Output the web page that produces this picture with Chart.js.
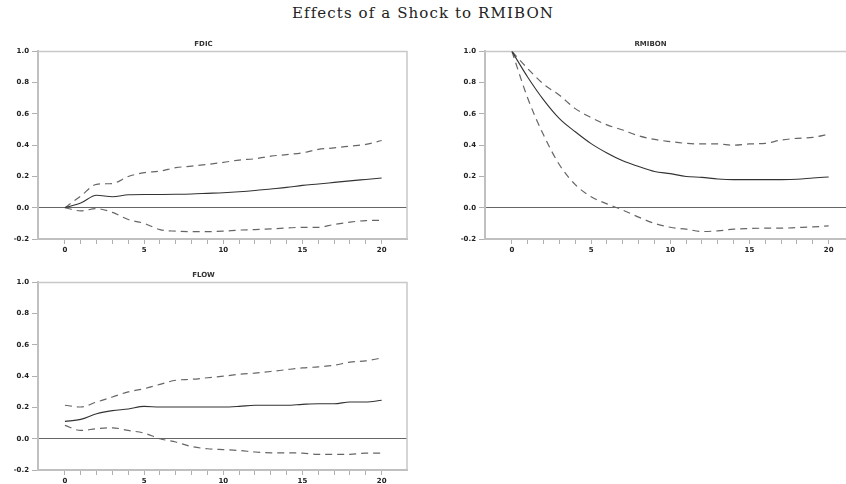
<!DOCTYPE html>
<html>
<head>
<meta charset="utf-8">
<script src="https://cdn.jsdelivr.net/npm/chart.js@4"></script>
<style>
  body { margin: 0; background: #fff; width: 846px; height: 484px; overflow: hidden; position: relative; }
  #title { position: absolute; top: 4px; left: 0; width: 846px; text-align: center;
           font: 15px "DejaVu Serif"; letter-spacing: 1.1px; color: #222; }
  canvas { position: absolute; }
</style>
</head>
<body>
<div id="title">Effects of a Shock to RMIBON</div>
<canvas id="c1" width="420" height="218" style="left:0;top:38px"></canvas>
<canvas id="c2" width="420" height="218" style="left:447px;top:38px"></canvas>
<canvas id="c3" width="420" height="218" style="left:0;top:269px"></canvas>
<script>
// horizon steps
const steps = [0, 1, 2, 3, 4, 5, 6, 7, 8, 9, 10, 11, 12, 13, 14, 15, 16, 17, 18, 19, 20];

// response of FDIC
const fdicResp = [0.0, 0.03, 0.08, 0.07, 0.083, 0.085, 0.085, 0.086, 0.088, 0.092, 0.096, 0.102, 0.11, 0.12, 0.13, 0.143, 0.152, 0.162, 0.172, 0.181, 0.19];
const fdicHigh = [0.0, 0.075, 0.15, 0.155, 0.2, 0.224, 0.234, 0.256, 0.266, 0.277, 0.29, 0.305, 0.313, 0.33, 0.34, 0.351, 0.373, 0.383, 0.394, 0.405, 0.43];
const fdicLow  = [0.0, -0.02, -0.006, -0.03, -0.075, -0.1, -0.14, -0.15, -0.153, -0.153, -0.15, -0.143, -0.14, -0.135, -0.13, -0.125, -0.125, -0.107, -0.092, -0.082, -0.08];

// response of RMIBON
const rmibonResp = [1.0, 0.835, 0.69, 0.57, 0.486, 0.41, 0.35, 0.30, 0.264, 0.232, 0.218, 0.2, 0.194, 0.184, 0.18, 0.18, 0.18, 0.18, 0.182, 0.19, 0.197];
const rmibonHigh = [1.0, 0.89, 0.79, 0.72, 0.634, 0.577, 0.53, 0.497, 0.46, 0.437, 0.423, 0.412, 0.408, 0.408, 0.40, 0.408, 0.412, 0.433, 0.444, 0.45, 0.47];
const rmibonLow  = [1.0, 0.70, 0.465, 0.275, 0.148, 0.07, 0.025, -0.015, -0.06, -0.1, -0.125, -0.137, -0.152, -0.148, -0.137, -0.133, -0.131, -0.131, -0.127, -0.123, -0.116];

// response of FLOW
const flowResp = [0.111, 0.124, 0.16, 0.18, 0.19, 0.207, 0.203, 0.203, 0.203, 0.203, 0.203, 0.207, 0.214, 0.214, 0.214, 0.22, 0.224, 0.224, 0.235, 0.235, 0.246];
const flowHigh = [0.214, 0.203, 0.235, 0.267, 0.30, 0.32, 0.348, 0.374, 0.38, 0.39, 0.40, 0.412, 0.42, 0.43, 0.442, 0.453, 0.46, 0.47, 0.49, 0.498, 0.517];
const flowLow  = [0.085, 0.053, 0.064, 0.07, 0.053, 0.036, 0.0, -0.021, -0.05, -0.064, -0.07, -0.075, -0.085, -0.09, -0.09, -0.092, -0.1, -0.1, -0.1, -0.092, -0.092];

const yTicks = [-0.2, 0.0, 0.2, 0.4, 0.6, 0.8, 1.0];

// top and right edges of the box
const framePlugin = {
  id: 'frame',
  beforeDatasetsDraw(chart) {
    const { ctx, chartArea: a } = chart;
    ctx.save();
    ctx.strokeStyle = '#c8c8c8';
    ctx.lineWidth = 1.5;
    ctx.beginPath();
    ctx.moveTo(a.left, a.top);
    ctx.lineTo(a.right, a.top);
    ctx.lineTo(a.right, a.bottom);
    ctx.stroke();
    ctx.restore();
  }
};

function pts(vals) {
  return steps.map((s, i) => ({ x: s, y: vals[i] }));
}

function makePanel(id, name, resp, low, high) {
  const band = {
    borderColor: '#666',
    borderWidth: 1.2,
    borderDash: [7, 5],
    pointRadius: 0,
    cubicInterpolationMode: 'monotone',
    fill: false
  };
  new Chart(document.getElementById(id), {
    type: 'line',
    data: {
      datasets: [
        { data: pts(resp), borderColor: '#333', borderWidth: 1.1, pointRadius: 0,
          cubicInterpolationMode: 'monotone', fill: false },
        Object.assign({ data: pts(high) }, band),
        Object.assign({ data: pts(low) }, band)
      ]
    },
    options: {
      responsive: false,
      animation: false,
      layout: { padding: { right: 13 } },
      plugins: {
        legend: { display: false },
        tooltip: { enabled: false },
        title: {
          display: true,
          text: name,
          color: '#333',
          font: { family: 'DejaVu Sans', size: 7, weight: 'bold' },
          padding: { top: 2, bottom: 3 }
        }
      },
      scales: {
        x: {
          type: 'linear',
          min: -1.7,
          max: 21.6,
          afterBuildTicks: s => { s.ticks = steps.map(v => ({ value: v })); },
          afterFit: s => { s.height = 17; },
          border: { color: '#c0c0c0', width: 2 },
          grid: { drawOnChartArea: false, tickLength: 5, tickColor: '#b0b0b0' },
          ticks: {
            autoSkip: false,
            maxRotation: 0,
            padding: 2,
            color: '#222',
            font: { family: 'DejaVu Sans', size: 7, weight: 'bold' },
            callback: v => (v % 5 === 0 ? String(v) : '')
          }
        },
        y: {
          min: -0.2,
          max: 1.0,
          afterBuildTicks: s => { s.ticks = yTicks.map(v => ({ value: v })); },
          afterFit: s => { s.width = 38; },
          border: { color: '#c0c0c0', width: 2 },
          grid: {
            tickLength: 6,
            tickColor: '#b0b0b0',
            color: c => (c.tick && Math.abs(c.tick.value) < 1e-9 ? '#666' : 'rgba(0,0,0,0)'),
            lineWidth: 1
          },
          ticks: {
            padding: 3,
            color: '#222',
            font: { family: 'DejaVu Sans', size: 7, weight: 'bold' },
            callback: v => v.toFixed(1)
          }
        }
      }
    },
    plugins: [framePlugin]
  });
}

makePanel('c1', 'FDIC', fdicResp, fdicLow, fdicHigh);
makePanel('c2', 'RMIBON', rmibonResp, rmibonLow, rmibonHigh);
makePanel('c3', 'FLOW', flowResp, flowLow, flowHigh);
</script>
</body>
</html>
